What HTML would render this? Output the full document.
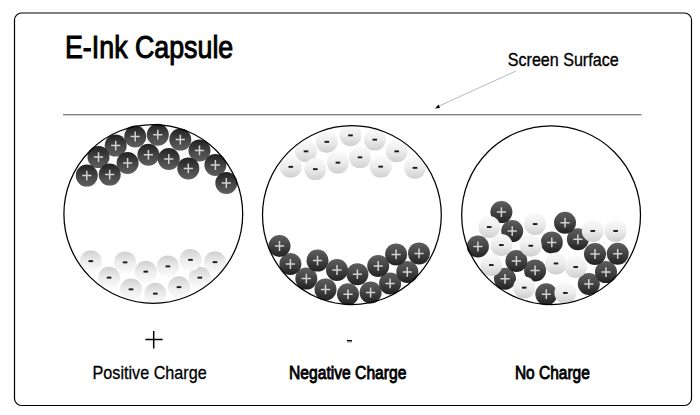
<!DOCTYPE html>
<html><head><meta charset="utf-8">
<style>
html,body{margin:0;padding:0;background:#fff;}
svg{display:block;}
text{font-family:"Liberation Sans",sans-serif;}
</style></head><body>
<svg width="700" height="415" viewBox="0 0 700 415">
<defs>
<linearGradient id="gd" x1="0" y1="0" x2="0" y2="1">
<stop offset="0" stop-color="#5e5e5e"/><stop offset="0.35" stop-color="#4c4c4c"/><stop offset="1" stop-color="#222"/>
</linearGradient>
<linearGradient id="gl" x1="0" y1="0" x2="0" y2="1">
<stop offset="0" stop-color="#fafafa"/><stop offset="0.5" stop-color="#ececec"/><stop offset="1" stop-color="#cfcfcf"/>
</linearGradient>
<g id="db"><circle r="11.0" fill="url(#gd)"/><path d="M-4.6 0H4.6M0 -4.9V4.9" stroke="#d2d2d2" stroke-width="1.5"/></g>
<g id="lb"><circle r="11.0" fill="url(#gl)"/><rect x="-2.3" y="-0.9" width="4.6" height="1.9" fill="#1a1a1a"/></g>
<g id="cap2">
<use href="#lb" x="350.5" y="135.3"/>
<use href="#lb" x="374.8" y="139.6"/>
<use href="#lb" x="326.8" y="141.8"/>
<use href="#lb" x="306.0" y="151.3"/>
<use href="#lb" x="396.7" y="151.3"/>
<use href="#lb" x="360.0" y="157.3"/>
<use href="#lb" x="337.9" y="162.6"/>
<use href="#lb" x="380.7" y="166.6"/>
<use href="#lb" x="290.8" y="166.8"/>
<use href="#lb" x="415.0" y="167.8"/>
<use href="#lb" x="315.3" y="169.1"/>
<use href="#db" x="348.0" y="294.3"/>
<use href="#db" x="370.6" y="292.5"/>
<use href="#db" x="325.5" y="289.4"/>
<use href="#db" x="390.1" y="283.4"/>
<use href="#db" x="306.3" y="278.6"/>
<use href="#db" x="357.4" y="274.2"/>
<use href="#db" x="407.3" y="271.9"/>
<use href="#db" x="337.0" y="270.0"/>
<use href="#db" x="378.2" y="266.0"/>
<use href="#db" x="290.4" y="264.0"/>
<use href="#db" x="317.5" y="260.6"/>
<use href="#db" x="396.1" y="254.4"/>
<use href="#db" x="419.0" y="253.4"/>
<use href="#db" x="279.5" y="246.0"/>
</g>
</defs>
<rect x="14.5" y="13" width="677" height="392.5" rx="7" ry="7" fill="none" stroke="#000" stroke-width="1.2"/>
<text x="65.0" y="58.3" font-size="30.6" transform="translate(65.0 0) scale(0.876 1) translate(-65.0 0)" fill="#000" stroke="#000" stroke-width="1.0">E-Ink Capsule</text>
<text x="507.8" y="66.5" font-size="18.4" transform="translate(507.8 0) scale(0.875 1) translate(-507.8 0)" fill="#000" stroke="#000" stroke-width="0.35">Screen Surface</text>
<line x1="516" y1="71" x2="438.5" y2="106.3" stroke="#b0b0b0" stroke-width="0.9"/>
<path d="M435 108.5 L438.5 104.5 L440 108 Z" fill="#000"/>
<line x1="63" y1="114.75" x2="641.5" y2="114.75" stroke="#555" stroke-width="1.1"/>
<use href="#cap2"/>
<g transform="translate(505.8 429.0) rotate(180)"><use href="#cap2"/></g>
<use href="#db" x="546.3" y="294.2"/>
<use href="#db" x="588.8" y="283.9"/>
<use href="#db" x="505.0" y="278.8"/>
<use href="#db" x="606.0" y="272.1"/>
<use href="#db" x="535.1" y="270.4"/>
<use href="#db" x="516.4" y="260.9"/>
<use href="#db" x="595.0" y="254.0"/>
<use href="#db" x="617.7" y="253.8"/>
<use href="#db" x="477.9" y="246.5"/>
<use href="#db" x="551.8" y="242.4"/>
<use href="#db" x="577.9" y="239.3"/>
<use href="#db" x="512.2" y="231.1"/>
<use href="#db" x="565.0" y="222.7"/>
<use href="#db" x="501.4" y="212.1"/>
<use href="#lb" x="535.1" y="224.0"/>
<use href="#lb" x="489.2" y="227.0"/>
<use href="#lb" x="592.8" y="230.9"/>
<use href="#lb" x="615.6" y="230.9"/>
<use href="#lb" x="501.4" y="245.0"/>
<use href="#lb" x="530.8" y="245.7"/>
<use href="#lb" x="556.0" y="263.4"/>
<use href="#lb" x="491.3" y="265.0"/>
<use href="#lb" x="575.7" y="267.0"/>
<use href="#lb" x="524.2" y="287.6"/>
<use href="#lb" x="565.4" y="292.9"/>
<circle cx="153.3" cy="213.9" r="89.4" fill="none" stroke="#000" stroke-width="1.25"/>
<circle cx="351.9" cy="215.1" r="89.4" fill="none" stroke="#000" stroke-width="1.25"/>
<circle cx="551.1" cy="215.15" r="89.4" fill="none" stroke="#000" stroke-width="1.25"/>
<path d="M145.4 339.5H162.6M153.7 331.1V348.6" stroke="#000" stroke-width="1.5"/>
<rect x="347" y="340" width="5" height="1.1" fill="#000"/><rect x="347" y="341.1" width="5" height="1.3" fill="#888"/>
<text x="92.6" y="379.2" font-size="18.2" transform="translate(92.6 0) scale(0.888 1) translate(-92.6 0)" fill="#000" stroke="#000" stroke-width="0.3">Positive Charge</text>
<text x="289" y="379.4" font-size="18.2" transform="translate(289 0) scale(0.86 1) translate(-289 0)" fill="#000" stroke="#000" stroke-width="0.85">Negative Charge</text>
<text x="514.9" y="379" font-size="18.2" transform="translate(514.9 0) scale(0.852 1) translate(-514.9 0)" fill="#000" stroke="#000" stroke-width="0.85">No Charge</text>
</svg>
</body></html>
